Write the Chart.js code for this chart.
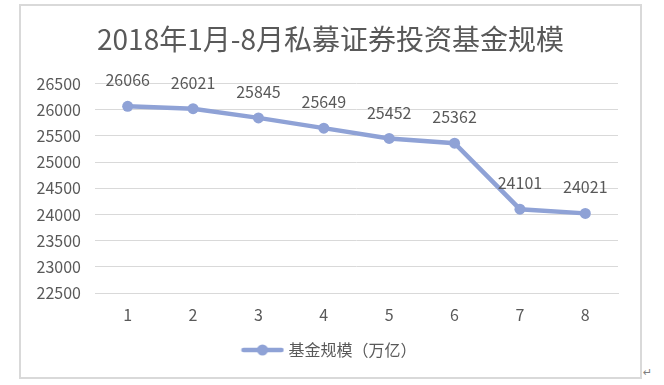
<!DOCTYPE html>
<html>
<head>
<meta charset="utf-8">
<script src="https://cdn.jsdelivr.net/npm/chart.js@4/dist/chart.umd.min.js"></script>
<style>
    body { margin: 0; background: #fff; width: 664px; height: 385px; position: relative; overflow: hidden; }
    #frame { position: absolute; left: 19px; top: 4px; width: 623px; height: 375px; box-sizing: border-box; border: 2px solid #d9d9d9; }
    #chart { display: block; }
    #mark { position: absolute; left: 643px; top: 366px; font: 11px "DejaVu Sans", sans-serif; color: #7f7f7f; }
</style>
</head>
<body>
<div id="frame"><canvas id="chart" width="619" height="371"></canvas></div>
<span id="mark">↵</span>
<script>
// chart data
const months = ["1", "2", "3", "4", "5", "6", "7", "8"];
const fundSize = [26066, 26021, 25845, 25649, 25452, 25362, 24101, 24021];
const seriesName = "基金规模（万亿）";
const chartTitle = "2018年1月-8月私募证券投资基金规模";
const yMin = 22500;
const yMax = 26500;
const yStep = 500;

const lineColor = "#8fa2d6";
const textColor = "#595959";
const gridColor = "#d9d9d9";
const fontFamily = "'Noto Sans CJK SC', 'Noto Sans', sans-serif";

// legend marker: line with a dot in the middle
function makeLegendMarker() {
    const c = document.createElement("canvas");
    c.width = 44;
    c.height = 14;
    const g = c.getContext("2d");
    g.strokeStyle = lineColor;
    g.lineWidth = 4.5;
    g.lineCap = "round";
    g.beginPath();
    g.moveTo(3, 7);
    g.lineTo(41, 7);
    g.stroke();
    g.fillStyle = lineColor;
    g.beginPath();
    g.arc(22, 7, 5.5, 0, Math.PI * 2);
    g.fill();
    return c;
}

// value labels above each point
const valueLabels = {
    id: "valueLabels",
    afterDatasetsDraw(chart) {
        const ctx = chart.ctx;
        const meta = chart.getDatasetMeta(0);
        ctx.save();
        ctx.font = "16px " + fontFamily;
        ctx.fillStyle = textColor;
        ctx.textAlign = "center";
        ctx.textBaseline = "middle";
        meta.data.forEach((pt, i) => {
            ctx.fillText(String(fundSize[i]), pt.x, pt.y - 26);
        });
        ctx.restore();
    }
};

new Chart(document.getElementById("chart"), {
    type: "line",
    data: {
        labels: months,
        datasets: [{
            label: seriesName,
            data: fundSize,
            borderColor: lineColor,
            backgroundColor: lineColor,
            borderWidth: 4.5,
            pointRadius: 5.5,
            pointBorderWidth: 0,
            pointBackgroundColor: lineColor,
            pointStyle: "circle",
            tension: 0
        }]
    },
    options: {
        responsive: false,
        animation: false,
        layout: { padding: { left: 0, right: 0, top: 0, bottom: 9 } },
        plugins: {
            title: {
                display: true,
                text: chartTitle,
                color: textColor,
                font: { family: fontFamily, size: 28, weight: "normal" },
                padding: { top: 17, bottom: 27 }
            },
            legend: {
                display: true,
                position: "bottom",
                labels: {
                    usePointStyle: true,
                    pointStyle: makeLegendMarker(),
                    pointStyleWidth: 36,
                    color: textColor,
                    font: { family: fontFamily, size: 16 },
                    padding: 10
                }
            },
            tooltip: { enabled: false }
        },
        scales: {
            x: {
                offset: true,
                grid: { display: false, drawTicks: false },
                border: { display: true, color: gridColor, width: 1 },
                ticks: { color: textColor, font: { family: fontFamily, size: 16 }, padding: 12 },
                afterFit(scale) { scale.height = 39; }
            },
            y: {
                min: yMin,
                max: yMax,
                grid: { color: gridColor, lineWidth: 1, drawTicks: false },
                border: { display: false },
                ticks: {
                    stepSize: yStep,
                    color: textColor,
                    font: { family: fontFamily, size: 16 },
                    padding: 14,
                    callback: (v) => String(v)
                },
                afterFit(scale) { scale.width = 74; }
            },
            // empty right-hand spacer so title and legend stay centred on the frame
            yRight: {
                position: "right",
                min: yMin,
                max: yMax,
                grid: { display: false, drawTicks: false },
                border: { display: false },
                ticks: { display: false },
                afterFit(scale) { scale.width = 22; }
            }
        }
    },
    plugins: [valueLabels]
});
</script>
</body>
</html>
